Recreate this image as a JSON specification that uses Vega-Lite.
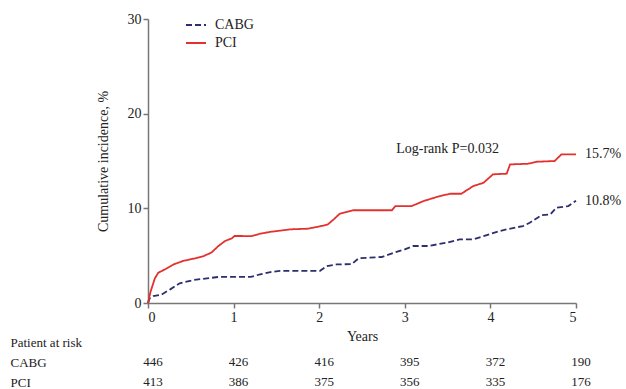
{
  "$schema": "https://vega.github.io/schema/vega-lite/v6.json",
  "background": "white",
  "padding": {"left": 10, "top": 12, "right": 0, "bottom": 0},
  "bounds": "flush",
  "spacing": 29,
  "config": {
    "font": "Liberation Serif",
    "view": {"stroke": null},
    "text": {"font": "Liberation Serif", "color": "#222222"}
  },
  "datasets": {
    "curves": [
      {"group": "CABG", "year": 0, "inc": 0},
      {"group": "CABG", "year": 0.02, "inc": 0.5},
      {"group": "CABG", "year": 0.06, "inc": 0.74},
      {"group": "CABG", "year": 0.15, "inc": 0.85},
      {"group": "CABG", "year": 0.26, "inc": 1.44},
      {"group": "CABG", "year": 0.37, "inc": 2.08},
      {"group": "CABG", "year": 0.53, "inc": 2.43},
      {"group": "CABG", "year": 0.69, "inc": 2.6},
      {"group": "CABG", "year": 0.82, "inc": 2.75},
      {"group": "CABG", "year": 1.2, "inc": 2.75},
      {"group": "CABG", "year": 1.31, "inc": 3.03},
      {"group": "CABG", "year": 1.43, "inc": 3.27},
      {"group": "CABG", "year": 1.54, "inc": 3.4},
      {"group": "CABG", "year": 2.01, "inc": 3.4},
      {"group": "CABG", "year": 2.09, "inc": 3.9},
      {"group": "CABG", "year": 2.16, "inc": 4.0},
      {"group": "CABG", "year": 2.2, "inc": 4.08},
      {"group": "CABG", "year": 2.38, "inc": 4.1},
      {"group": "CABG", "year": 2.46, "inc": 4.72},
      {"group": "CABG", "year": 2.73, "inc": 4.86},
      {"group": "CABG", "year": 2.87, "inc": 5.31},
      {"group": "CABG", "year": 3.0, "inc": 5.67},
      {"group": "CABG", "year": 3.1, "inc": 6.02},
      {"group": "CABG", "year": 3.27, "inc": 6.02},
      {"group": "CABG", "year": 3.49, "inc": 6.37},
      {"group": "CABG", "year": 3.64, "inc": 6.72},
      {"group": "CABG", "year": 3.8, "inc": 6.72},
      {"group": "CABG", "year": 3.92, "inc": 7.07},
      {"group": "CABG", "year": 4.11, "inc": 7.6},
      {"group": "CABG", "year": 4.19, "inc": 7.78},
      {"group": "CABG", "year": 4.38, "inc": 8.13},
      {"group": "CABG", "year": 4.46, "inc": 8.48},
      {"group": "CABG", "year": 4.6, "inc": 9.29},
      {"group": "CABG", "year": 4.7, "inc": 9.36},
      {"group": "CABG", "year": 4.77, "inc": 10.07},
      {"group": "CABG", "year": 4.91, "inc": 10.24},
      {"group": "CABG", "year": 5.0, "inc": 10.8},
      {"group": "PCI", "year": 0, "inc": 0},
      {"group": "PCI", "year": 0.03, "inc": 1.2},
      {"group": "PCI", "year": 0.08, "inc": 2.6},
      {"group": "PCI", "year": 0.12, "inc": 3.2},
      {"group": "PCI", "year": 0.2, "inc": 3.56},
      {"group": "PCI", "year": 0.3, "inc": 4.08},
      {"group": "PCI", "year": 0.41, "inc": 4.44},
      {"group": "PCI", "year": 0.55, "inc": 4.72},
      {"group": "PCI", "year": 0.65, "inc": 4.96},
      {"group": "PCI", "year": 0.74, "inc": 5.32},
      {"group": "PCI", "year": 0.82, "inc": 6.0},
      {"group": "PCI", "year": 0.9, "inc": 6.55},
      {"group": "PCI", "year": 0.98, "inc": 6.83},
      {"group": "PCI", "year": 1.01, "inc": 7.08},
      {"group": "PCI", "year": 1.21, "inc": 7.07},
      {"group": "PCI", "year": 1.31, "inc": 7.32},
      {"group": "PCI", "year": 1.44, "inc": 7.53},
      {"group": "PCI", "year": 1.66, "inc": 7.78},
      {"group": "PCI", "year": 1.87, "inc": 7.85},
      {"group": "PCI", "year": 2.01, "inc": 8.1},
      {"group": "PCI", "year": 2.1, "inc": 8.3},
      {"group": "PCI", "year": 2.17, "inc": 8.84},
      {"group": "PCI", "year": 2.24, "inc": 9.43},
      {"group": "PCI", "year": 2.4, "inc": 9.8},
      {"group": "PCI", "year": 2.85, "inc": 9.8},
      {"group": "PCI", "year": 2.89, "inc": 10.24},
      {"group": "PCI", "year": 3.08, "inc": 10.24},
      {"group": "PCI", "year": 3.22, "inc": 10.77},
      {"group": "PCI", "year": 3.41, "inc": 11.3},
      {"group": "PCI", "year": 3.53, "inc": 11.54},
      {"group": "PCI", "year": 3.66, "inc": 11.54},
      {"group": "PCI", "year": 3.8, "inc": 12.35},
      {"group": "PCI", "year": 3.92, "inc": 12.7},
      {"group": "PCI", "year": 4.03, "inc": 13.59},
      {"group": "PCI", "year": 4.19, "inc": 13.66},
      {"group": "PCI", "year": 4.23, "inc": 14.64},
      {"group": "PCI", "year": 4.44, "inc": 14.71},
      {"group": "PCI", "year": 4.54, "inc": 14.92},
      {"group": "PCI", "year": 4.75, "inc": 15.0},
      {"group": "PCI", "year": 4.83, "inc": 15.7},
      {"group": "PCI", "year": 5.0, "inc": 15.7}
    ],
    "atRisk": [
      {"group": "CABG", "year": 0, "n": 446},
      {"group": "CABG", "year": 1, "n": 426},
      {"group": "CABG", "year": 2, "n": 416},
      {"group": "CABG", "year": 3, "n": 395},
      {"group": "CABG", "year": 4, "n": 372},
      {"group": "CABG", "year": 5, "n": 190},
      {"group": "PCI", "year": 0, "n": 413},
      {"group": "PCI", "year": 1, "n": 386},
      {"group": "PCI", "year": 2, "n": 375},
      {"group": "PCI", "year": 3, "n": 356},
      {"group": "PCI", "year": 4, "n": 335},
      {"group": "PCI", "year": 5, "n": 176}
    ],
    "notes": [
      {"note": "Log-rank P=0.032"}
    ]
  },
  "resolve": {"scale": {"x": "independent", "y": "independent"}},
  "vconcat": [
    {
      "width": 428,
      "height": 284,
      "layer": [
        {
          "data": {"name": "curves"},
          "mark": {"type": "line", "strokeWidth": 1.8},
          "encoding": {
            "x": {
              "field": "year",
              "type": "quantitative",
              "scale": {"domain": [0, 5], "nice": false},
              "axis": {
                "values": [0, 1, 2, 3, 4, 5],
                "format": "d",
                "title": "Years",
                "grid": false,
                "domainColor": "#777777",
                "domainWidth": 1.5,
                "tickColor": "#777777",
                "tickWidth": 1.5,
                "tickSize": 5,
                "labelFontSize": 14,
                "labelColor": "#222222",
                "labelPadding": 2,
                "titleFontSize": 14,
                "titleFontWeight": "normal",
                "titleColor": "#222222",
                "titlePadding": 5
              }
            },
            "y": {
              "field": "inc",
              "type": "quantitative",
              "scale": {"domain": [0, 30], "nice": false},
              "axis": {
                "values": [0, 10, 20, 30],
                "format": "d",
                "title": "Cumulative incidence, %",
                "grid": false,
                "domainColor": "#777777",
                "domainWidth": 1.5,
                "tickColor": "#777777",
                "tickWidth": 1.5,
                "tickSize": 5,
                "labelFontSize": 14,
                "labelColor": "#222222",
                "labelPadding": 2,
                "titleFontSize": 14,
                "titleFontWeight": "normal",
                "titleColor": "#222222",
                "titlePadding": 17
              }
            },
            "color": {
              "field": "group",
              "type": "nominal",
              "scale": {"domain": ["CABG", "PCI"], "range": ["#2e2e6e", "#e2312f"]},
              "legend": {
                "title": null,
                "orient": "none",
                "legendX": 37,
                "legendY": -5,
                "symbolType": "stroke",
                "symbolSize": 400,
                "symbolStrokeWidth": 2,
                "labelFontSize": 14,
                "labelColor": "#222222",
                "labelOffset": 8,
                "rowPadding": -2
              }
            },
            "strokeDash": {
              "field": "group",
              "type": "nominal",
              "scale": {"domain": ["CABG", "PCI"], "range": [[6, 3], [1, 0]]},
              "legend": {
                "title": null,
                "orient": "none",
                "legendX": 37,
                "legendY": -5,
                "symbolType": "stroke",
                "symbolSize": 400,
                "symbolStrokeWidth": 2,
                "labelFontSize": 14,
                "labelColor": "#222222",
                "labelOffset": 8,
                "rowPadding": -2
              }
            }
          }
        },
        {
          "data": {"name": "curves"},
          "transform": [
            {"filter": "datum.year == 5"},
            {"calculate": "format(datum.inc, '.1f') + '%'", "as": "label"}
          ],
          "mark": {"type": "text", "align": "left", "dx": 9, "fontSize": 14},
          "encoding": {
            "x": {"field": "year", "type": "quantitative"},
            "y": {"field": "inc", "type": "quantitative"},
            "text": {"field": "label"}
          }
        },
        {
          "data": {"name": "notes"},
          "mark": {"type": "text", "fontSize": 14},
          "encoding": {
            "x": {"datum": 3.5, "type": "quantitative"},
            "y": {"datum": 16.3, "type": "quantitative"},
            "text": {"field": "note"}
          }
        }
      ]
    },
    {
      "width": 428,
      "height": 60,
      "data": {"name": "atRisk"},
      "mark": {"type": "text", "fontSize": 13, "dx": 5},
      "encoding": {
        "x": {
          "field": "year",
          "type": "quantitative",
          "scale": {"domain": [0, 5], "nice": false},
          "axis": null
        },
        "y": {
          "field": "group",
          "type": "nominal",
          "scale": {"domain": ["Patient at risk", "CABG", "PCI"], "paddingInner": 0, "paddingOuter": 0},
          "axis": {
            "title": null,
            "domain": false,
            "ticks": false,
            "labelAlign": "left",
            "labelPadding": 138,
            "labelFontSize": 13,
            "labelColor": "#222222"
          }
        },
        "text": {"field": "n", "type": "quantitative"}
      }
    }
  ]
}
